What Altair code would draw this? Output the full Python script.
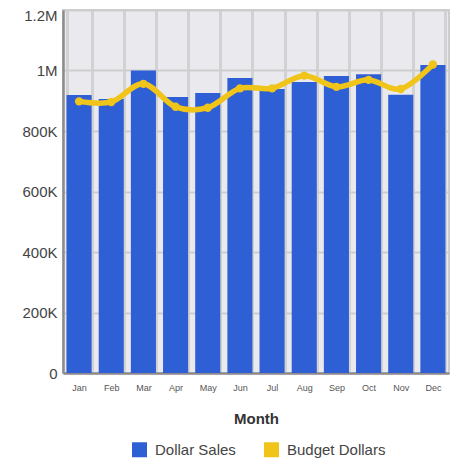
import altair as alt
import pandas as pd

months = ["Jan", "Feb", "Mar", "Apr", "May", "Jun", "Jul", "Aug", "Sep", "Oct", "Nov", "Dec"]
dollar_sales = [919000, 906000, 1000000, 912000, 926000, 975000, 939000, 962000, 982000, 988000, 920000, 1018000]
budget_dollars = [898000, 896000, 956000, 880000, 877000, 941000, 941000, 983000, 946000, 969000, 939000, 1020000]
series_names = ["Dollar Sales", "Budget Dollars"]
y_ticks = [0, 200000, 400000, 600000, 800000, 1000000, 1200000]

sales_df = pd.DataFrame({"Month": months, "Value": dollar_sales, "Series": series_names[0]})
budget_df = pd.DataFrame({"Month": months, "Value": budget_dollars, "Series": series_names[1]})

FONT = "Liberation Sans"
BLUE = "#2F5FD4"
YELLOW = "#F0C419"

color = alt.Color(
    "Series:N",
    scale=alt.Scale(domain=series_names, range=[BLUE, YELLOW]),
    legend=alt.Legend(
        title=None,
        orient="none",
        legendX=69,
        legendY=432,
        direction="horizontal",
        symbolType="square",
        symbolSize=225,
        symbolStrokeWidth=0,
        labelFontSize=15,
        labelColor="#444444",
        labelFont=FONT,
        labelOffset=8,
        columnPadding=28,
    ),
)

x = alt.X(
    "Month:N",
    sort=months,
    scale=alt.Scale(paddingInner=0.22, paddingOuter=0.11),
    axis=alt.Axis(
        title="Month",
        labelAngle=0,
        ticks=False,
        tickBand="extent",
        grid=True,
        gridColor="#D2D2D2",
        gridWidth=3,
        domainColor="#8C8C8C",
        domainWidth=2.5,
        labelFontSize=9,
        labelColor="#555555",
        labelFont=FONT,
        labelPadding=10,
        titleFont=FONT,
        titleFontSize=15,
        titleFontWeight="bold",
        titleColor="#333333",
        titlePadding=19,
    ),
)

y_axis = alt.Axis(
    title=None,
    values=y_ticks,
    labelExpr="datum.value == 0 ? '0' : replace(format(datum.value, '~s'), 'k', 'K')",
    ticks=False,
    grid=True,
    gridColor="#CDCDCD",
    gridWidth=2,
    domainColor="#8C8C8C",
    domainWidth=2.5,
    labelFontSize=15,
    labelColor="#444444",
    labelFont=FONT,
    labelPadding=6,
    labelOffset={"condition": {"test": "datum.value >= 1200000", "value": 5}, "value": 0},
)
y = alt.Y("Value:Q", scale=alt.Scale(domain=[0, 1200000], nice=False), axis=y_axis)

bars = alt.Chart(sales_df).mark_bar().encode(x=x, y=y, color=color)
line = alt.Chart(budget_df).mark_line(
    interpolate="cardinal",
    strokeWidth=5.5,
    point=alt.OverlayMarkDef(size=70, filled=True, opacity=1),
).encode(x=x, y=y, color=color)

chart = alt.layer(bars, line).properties(
    width=386,
    height=363,
    padding={"left": 55, "top": 2, "right": 5, "bottom": 87},
    autosize=alt.AutoSizeParams(type="none"),
).configure(
    font=FONT,
).configure_view(
    fill="#EAE9EE",
    stroke="#CDCDCD",
    strokeWidth=2,
)

chart.save("out.html", embed_options={"renderer": "svg", "actions": False})
